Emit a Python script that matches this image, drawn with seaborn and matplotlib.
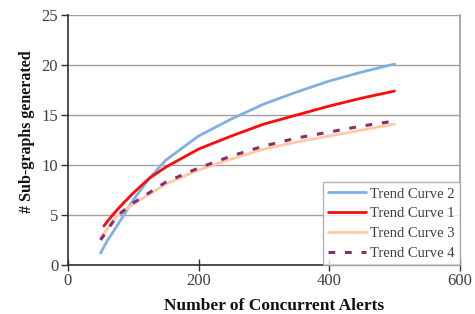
import numpy as np
import pandas as pd
import matplotlib
matplotlib.use("Agg")
import matplotlib.pyplot as plt
import seaborn as sns

# values
x_c2 = [50, 60, 75, 100, 125, 150, 200, 250, 300, 350, 400, 450, 500]
y_c2 = [1.2, 2.4, 3.9, 6.5, 8.7, 10.5, 12.9, 14.6, 16.1, 17.3, 18.4, 19.3, 20.1]

x_c1 = [55, 62, 75, 85, 100, 125, 150, 200, 250, 300, 350, 400, 450, 500]
y_c1 = [3.9, 4.5, 5.5, 6.2, 7.2, 8.7, 9.8, 11.6, 12.9, 14.1, 15.0, 15.9, 16.7, 17.4]

x_c3 = [50, 75, 100, 150, 200, 250, 300, 350, 400, 450, 500]
y_c3 = [2.7, 4.9, 6.1, 8.1, 9.5, 10.6, 11.6, 12.3, 12.9, 13.5, 14.1]

x_c4 = [50, 75, 100, 150, 200, 250, 300, 350, 400, 450, 500]
y_c4 = [2.5, 4.9, 6.2, 8.3, 9.7, 10.9, 11.9, 12.7, 13.3, 13.9, 14.4]

labels = ["Trend Curve 2", "Trend Curve 1", "Trend Curve 3", "Trend Curve 4"]
colors = ["#7fb0e4", "#ff0a0a", "#ffc9a6", "#8a2d6e"]
styles = ["-", "-", "-", (0, (2.2, 3.2))]
widths = [2.0, 2.0, 2.0, 2.2]

sns.set_theme(style="white")
plt.rcParams["font.family"] = ["Liberation Serif", "DejaVu Serif"]

fig = plt.figure(figsize=(4.75, 3.14), dpi=100)
ax = fig.add_axes([0.143, 0.156, 0.825, 0.796])

xs = [x_c2, x_c1, x_c3, x_c4]
ys = [y_c2, y_c1, y_c3, y_c4]
for xv, yv, lab, c, ls, lw in zip(xs, ys, labels, colors, styles, widths):
    df = pd.DataFrame({"x": xv, "y": yv})
    sns.lineplot(data=df, x="x", y="y", ax=ax, color=c, linestyle=ls,
                 linewidth=lw, label=lab)

ax.set_xlim(0, 600)
ax.set_ylim(0, 25)
ax.set_xticks([0, 200, 400, 600])
ax.set_yticks([0, 5, 10, 15, 20, 25])
ax.yaxis.grid(True, color="#a0a0a0", linewidth=1.0)
ax.set_axisbelow(True)

for s in ["left", "bottom"]:
    ax.spines[s].set_color("#303030")
    ax.spines[s].set_linewidth(1.2)
ax.spines["right"].set_color("#a0a0a0")
ax.spines["top"].set_visible(False)

ax.tick_params(axis="y", direction="out", length=5, width=1, color="#303030",
               labelsize=12, labelcolor="#404040", left=True, pad=2)
ax.tick_params(axis="x", direction="inout", length=8, width=1, color="#303030",
               labelsize=12, labelcolor="#404040", bottom=True, pad=2)

ax.set_xlabel("Number of Concurrent Alerts", fontsize=12.5, fontweight="bold",
              color="#111111")
ax.set_ylabel("# Sub-graphs generated", fontsize=11.5, fontweight="bold",
              color="#111111")
ax.xaxis.set_label_coords(0.525, -0.13)
ax.yaxis.set_label_coords(-0.085, 0.535)

leg = ax.legend(loc="lower right", frameon=True, fancybox=False, fontsize=10.5,
                edgecolor="#a0a0a0", borderaxespad=0.0, handlelength=2.6,
                handletextpad=0.3, labelspacing=0.45, borderpad=0.35)
leg.get_frame().set_linewidth(1.0)
for t in leg.get_texts():
    t.set_color("#404040")

fig.savefig("out.png", dpi=100)
